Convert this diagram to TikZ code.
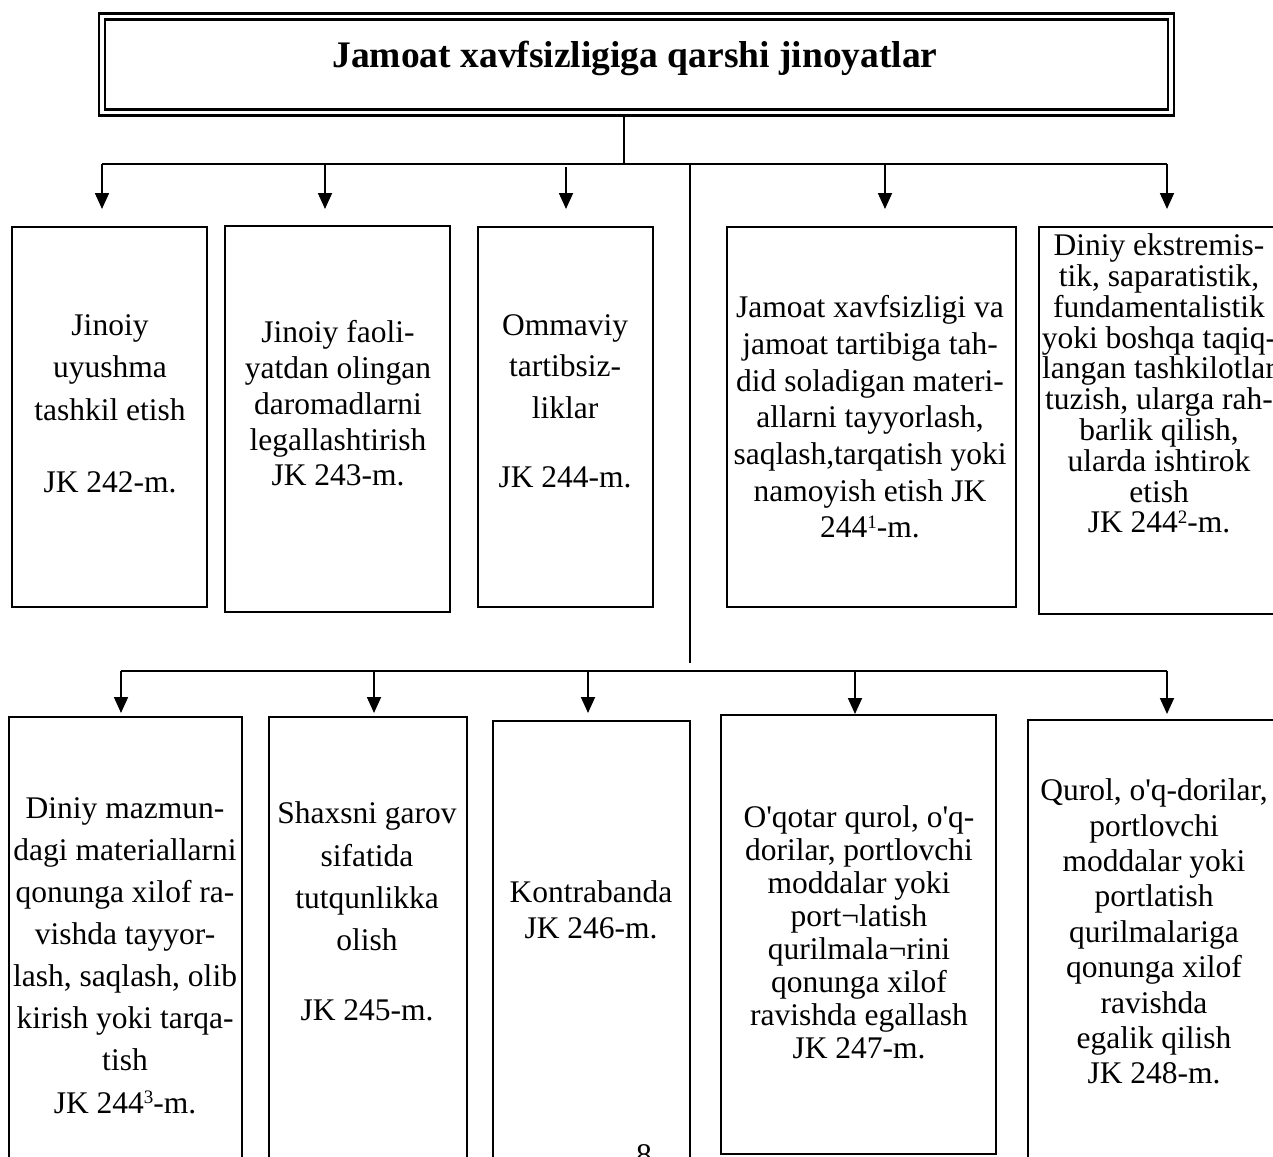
\documentclass[tikz,border=0pt]{standalone}
\usepackage{fontspec}
\setmainfont{Liberation Serif}[Ligatures=TeXOff]
\usetikzlibrary{arrows.meta}
\tikzset{
  box/.style={draw, line width=2pt, inner sep=0pt, outer sep=0pt},
  txt/.style={align=center, inner sep=0pt},
  conn/.style={line width=1.8pt},
  arr/.style={conn, -{Triangle[length=16pt,width=14pt]}},
}
\newcommand{\fs}[1]{\fontsize{31.5}{#1}\selectfont}
\newcommand{\sps}[1]{\raisebox{9.5pt}{\fontsize{19}{19}\selectfont #1}}
\begin{document}
\begin{tikzpicture}[x=1pt,y=-1pt]
\clip (0,0) rectangle (1273,1156);
\fill[white] (0,0) rectangle (1273,1156);

% title
\node[draw, line width=2.5pt, double, double distance=3.5pt, minimum width=1069pt, minimum height=96pt, inner sep=0pt, outer sep=4.25pt] (title) at (636.5,64.5) {};
\node[font=\bfseries\fontsize{37.5}{45}\selectfont, inner sep=0pt] (ttl) at (635,58) {Jamoat xavfsizligiga qarshi jinoyatlar};

% top boxes
\node[box, minimum width=195pt, minimum height=380pt] (b1) at (109.5,417) {};
\node[box, minimum width=225pt, minimum height=386pt] (b2) at (337.5,419) {};
\node[box, minimum width=175pt, minimum height=380pt] (b3) at (565.5,417) {};
\node[box, minimum width=289pt, minimum height=380pt] (b4) at (871.5,417) {};
\node[box, minimum width=251pt, minimum height=387pt] (b5) at (1164.5,420.5) {};

\node[txt, font=\fs{42.5}] (t1) at (110,404) {Jinoiy\\uyushma\\tashkil etish\\[30pt]JK 242-m.};
\node[txt, font=\fs{35.75}] (t2) at (338,403.5) {Jinoiy faoli-\\yatdan olingan\\daromadlarni\\legallashtirish\\JK 243-m.};
\node[txt, font=\fs{41.5}] (t3) at (565,401) {Ommaviy\\tartibsiz-\\liklar\\[27.5pt]JK 244-m.};
\node[txt, font=\fs{36.7}] (t4) at (870,417) {Jamoat xavfsizligi va\\jamoat tartibiga tah-\\did soladigan materi-\\allarni tayyorlash,\\saqlash,tarqatish yoki\\namoyish etish JK\\244\sps{1}-m.};
\node[txt, font=\fs{30.8}] (t5) at (1159,383.5) {Diniy ekstremis-\\tik, saparatistik,\\fundamentalistik\\yoki boshqa taqiq-\\langan tashkilotlar\\tuzish, ularga rah-\\barlik qilish,\\ularda ishtirok\\etish\\JK 244\sps{2}-m.};

% bottom boxes
\node[box, minimum width=233pt, minimum height=463pt] (c1) at (125.5,948.5) {};
\node[box, minimum width=198pt, minimum height=463pt] (c2) at (368,948.5) {};
\node[box, minimum width=197pt, minimum height=459pt] (c3) at (591.5,950.5) {};
\node[box, minimum width=275pt, minimum height=439pt] (c4) at (858.5,934.5) {};
\node[box, minimum width=262pt, minimum height=460pt] (c5) at (1159,950) {};

\node[txt, font=\fs{42.1}] (u1) at (125,955.5) {Diniy mazmun-\\dagi materiallarni\\qonunga xilof ra-\\vishda tayyor-\\lash, saqlash, olib\\kirish yoki tarqa-\\tish\\JK 244\sps{3}-m.};
\node[txt, font=\fs{42.3}] (u2) at (367,911.5) {Shaxsni garov\\sifatida\\tutqunlikka\\olish\\[27.7pt]JK 245-m.};
\node[txt, font=\fs{36}] (u3) at (591,910) {Kontrabanda\\JK 246-m.};
\node[txt, font=\fs{33}] (u4) at (859,932.5) {O'qotar qurol, o'q-\\dorilar, portlovchi\\moddalar yoki\\port¬latish\\qurilmala¬rini\\qonunga xilof\\ravishda egallash\\JK 247-m.};
\node[txt, font=\fs{35.4}] (u5) at (1154,931.5) {Qurol, o'q-dorilar,\\portlovchi\\moddalar yoki\\portlatish\\qurilmalariga\\qonunga xilof\\ravishda\\egalik qilish\\JK 248-m.};

\node[txt, font=\fs{36}] (pg) at (644,1155) {8};

% connectors
\coordinate (j0) at (624,164);
\draw[conn] (title.south -| j0) -- (j0);
\coordinate (busL) at (102,164);
\coordinate (busR) at (1167,164);
\coordinate (k2) at (325,164);
\coordinate (k3) at (566,164);
\coordinate (k4) at (885,164);
\coordinate (v0) at (690,164);
\coordinate (v1) at (690,663);
\draw[conn] (busL) -- (busR);
\draw[arr, shorten >=18pt] (busL) -- (busL |- b1.north);
\draw[arr, shorten >=17pt] (k2) -- (k2 |- b2.north);
\draw[arr, shorten >=18pt, shorten <=3pt] (k3) -- (k3 |- b3.north);
\draw[arr, shorten >=18pt] (k4) -- (k4 |- b4.north);
\draw[arr, shorten >=18pt] (busR) -- (busR |- b5.north);
\draw[conn] (v0) -- (v1);

\coordinate (mL) at (121,671);
\coordinate (mR) at (1167,671);
\coordinate (m2) at (374,671);
\coordinate (m3) at (588,671);
\coordinate (m4) at (855,671);
\draw[conn] (mL) -- (mR);
\draw[arr, shorten >=4pt] (mL) -- (mL |- c1.north);
\draw[arr, shorten >=4pt] (m2) -- (m2 |- c2.north);
\draw[arr, shorten >=8pt] (m3) -- (m3 |- c3.north);
\draw[arr, shorten >=1pt] (m4) -- (m4 |- c4.north);
\draw[arr, shorten >=6pt] (mR) -- (mR |- c5.north);
\end{tikzpicture}
\end{document}
